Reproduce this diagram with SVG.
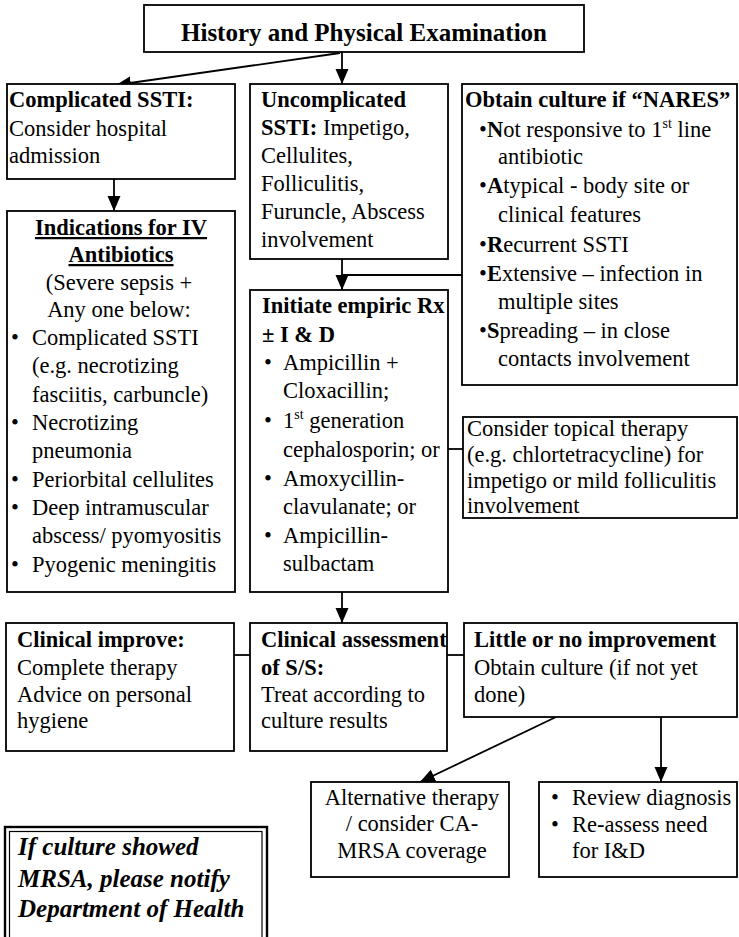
<svg xmlns="http://www.w3.org/2000/svg" width="739" height="937" viewBox="0 0 739 937">
<style>
.t{font-size:22.5px;fill:#000}
.b{font-weight:bold}
.c{text-anchor:middle}
.u{text-decoration:underline}
.box{fill:#fff;stroke:#000;stroke-width:1.8}
.ln{fill:none;stroke:#000;stroke-width:1.8}
.sup{font-size:14px}
.i{font-style:italic;font-size:25px}
</style>
<defs>
<marker id="ah" markerUnits="userSpaceOnUse" markerWidth="16" markerHeight="14" refX="15" refY="7" orient="auto" viewBox="0 0 16 14">
<path d="M0,0.5 L15,7 L0,13.5 z" fill="#000"/>
</marker>
</defs>
<rect width="739" height="937" fill="#fff"/>
<g font-family="Liberation Serif, Times New Roman, serif">

<g id="connectors">
<line class="ln" x1="342" y1="52" x2="342" y2="84" marker-end="url(#ah)"/>
<line class="ln" x1="340" y1="53" x2="116" y2="85" marker-end="url(#ah)"/>
<line class="ln" x1="114" y1="179" x2="114" y2="211" marker-end="url(#ah)"/>
<line class="ln" x1="342" y1="259" x2="342" y2="290" marker-end="url(#ah)"/>
<line class="ln" x1="342" y1="275" x2="462" y2="275"/>
<line class="ln" x1="448" y1="449" x2="463" y2="449"/>
<line class="ln" x1="342" y1="592" x2="342" y2="623" marker-end="url(#ah)"/>
<line class="ln" x1="234" y1="655" x2="250" y2="655"/>
<line class="ln" x1="447" y1="655" x2="464" y2="655"/>
<line class="ln" x1="556" y1="717" x2="420" y2="782" marker-end="url(#ah)"/>
<line class="ln" x1="661" y1="717" x2="661" y2="782" marker-end="url(#ah)"/>
</g>

<g id="history">
<rect class="box" x="144" y="5" width="440" height="47"/>
<text class="t b c" x="364" y="41" font-size="25" style="font-size:25px">History and Physical Examination</text>
</g>

<g id="complicated">
<rect class="box" x="7" y="84" width="228" height="95"/>
<text class="t b" x="9" y="107">Complicated SSTI:</text>
<text class="t" x="9" y="136">Consider hospital</text>
<text class="t" x="9" y="163">admission</text>
</g>

<g id="uncomplicated">
<rect class="box" x="250" y="84" width="198" height="175"/>
<text class="t b" x="261" y="107">Uncomplicated</text>
<text class="t" x="261" y="135"><tspan class="b">SSTI:</tspan> Impetigo,</text>
<text class="t" x="261" y="163">Cellulites,</text>
<text class="t" x="261" y="191">Folliculitis,</text>
<text class="t" x="261" y="219">Furuncle, Abscess</text>
<text class="t" x="261" y="247">involvement</text>
</g>

<g id="nares">
<rect class="box" x="462" y="84" width="275" height="301"/>
<text class="t b" x="465" y="107">Obtain culture if “NARES”</text>
<text class="t" x="479" y="137">•<tspan class="b">N</tspan>ot responsive to 1<tspan class="sup" dy="-9">st</tspan><tspan dy="9"> line</tspan></text>
<text class="t" x="498" y="164">antibiotic</text>
<text class="t" x="479" y="193">•<tspan class="b">A</tspan>typical - body site or</text>
<text class="t" x="498" y="222">clinical features</text>
<text class="t" x="479" y="252">•<tspan class="b">R</tspan>ecurrent SSTI</text>
<text class="t" x="479" y="281">•<tspan class="b">E</tspan>xtensive – infection in</text>
<text class="t" x="498" y="309">multiple sites</text>
<text class="t" x="479" y="338">•<tspan class="b">S</tspan>preading – in close</text>
<text class="t" x="498" y="366">contacts involvement</text>
</g>

<g id="indications">
<rect class="box" x="7" y="211" width="228" height="381"/>
<text class="t b c u" x="121" y="235">Indications for IV</text>
<text class="t b c u" x="121" y="262">Antibiotics</text>
<text class="t c" x="119" y="290">(Severe sepsis +</text>
<text class="t c" x="119" y="317">Any one below:</text>
<text class="t" x="11" y="345">•</text>
<text class="t" x="32" y="345">Complicated SSTI</text>
<text class="t" x="32" y="373">(e.g. necrotizing</text>
<text class="t" x="32" y="402">fasciitis, carbuncle)</text>
<text class="t" x="11" y="430">•</text>
<text class="t" x="32" y="430">Necrotizing</text>
<text class="t" x="32" y="458">pneumonia</text>
<text class="t" x="11" y="487">•</text>
<text class="t" x="32" y="487">Periorbital cellulites</text>
<text class="t" x="11" y="515">•</text>
<text class="t" x="32" y="515">Deep intramuscular</text>
<text class="t" x="32" y="543">abscess/ pyomyositis</text>
<text class="t" x="11" y="572">•</text>
<text class="t" x="32" y="572">Pyogenic meningitis</text>
</g>

<g id="initiate">
<rect class="box" x="250" y="290" width="198" height="302"/>
<text class="t b" x="262" y="313">Initiate empiric Rx</text>
<text class="t b" x="262" y="342">± I &amp; D</text>
<text class="t" x="264" y="370">•</text>
<text class="t" x="283" y="370">Ampicillin +</text>
<text class="t" x="283" y="398">Cloxacillin;</text>
<text class="t" x="264" y="428">•</text>
<text class="t" x="283" y="428">1<tspan class="sup" dy="-9">st</tspan><tspan dy="9"> generation</tspan></text>
<text class="t" x="283" y="457">cephalosporin; or</text>
<text class="t" x="264" y="486">•</text>
<text class="t" x="283" y="486">Amoxycillin-</text>
<text class="t" x="283" y="514">clavulanate; or</text>
<text class="t" x="264" y="543">•</text>
<text class="t" x="283" y="543">Ampicillin-</text>
<text class="t" x="283" y="571">sulbactam</text>
</g>

<g id="topical">
<rect class="box" x="463" y="417" width="274" height="101"/>
<text class="t" x="467" y="436">Consider topical therapy</text>
<text class="t" x="467" y="462">(e.g. chlortetracycline) for</text>
<text class="t" x="467" y="488">impetigo or mild folliculitis</text>
<text class="t" x="467" y="513">involvement</text>
</g>

<g id="improve">
<rect class="box" x="6" y="623" width="228" height="128"/>
<text class="t b" x="17" y="647">Clinical improve:</text>
<text class="t" x="17" y="675">Complete therapy</text>
<text class="t" x="17" y="702">Advice on personal</text>
<text class="t" x="17" y="728">hygiene</text>
</g>

<g id="assessment">
<rect class="box" x="250" y="623" width="197" height="128"/>
<text class="t b" x="261" y="647">Clinical assessment</text>
<text class="t b" x="261" y="675">of S/S:</text>
<text class="t" x="261" y="702">Treat according to</text>
<text class="t" x="261" y="728">culture results</text>
</g>

<g id="little">
<rect class="box" x="464" y="623" width="273" height="94"/>
<text class="t b" x="474" y="647">Little or no improvement</text>
<text class="t" x="474" y="675">Obtain culture (if not yet</text>
<text class="t" x="474" y="702">done)</text>
</g>

<g id="alternative">
<rect class="box" x="311" y="782" width="198" height="95"/>
<text class="t c" x="412" y="805">Alternative therapy</text>
<text class="t c" x="412" y="831">/ consider CA-</text>
<text class="t c" x="412" y="858">MRSA coverage</text>
</g>

<g id="review">
<rect class="box" x="539" y="782" width="198" height="95"/>
<text class="t" x="551" y="805">•</text>
<text class="t" x="572" y="805">Review diagnosis</text>
<text class="t" x="551" y="832">•</text>
<text class="t" x="572" y="832">Re-assess need</text>
<text class="t" x="572" y="858">for I&amp;D</text>
</g>

<g id="mrsa">
<rect x="5" y="827" width="262" height="130" fill="#fff" stroke="#000" stroke-width="2.4"/>
<rect x="9.5" y="831.5" width="252.5" height="130" fill="none" stroke="#000" stroke-width="1.2"/>
<text class="t b i" x="18" y="855">If culture showed</text>
<text class="t b i" x="18" y="887">MRSA, please notify</text>
<text class="t b i" x="18" y="917">Department of Health</text>
</g>
</g>
</svg>
